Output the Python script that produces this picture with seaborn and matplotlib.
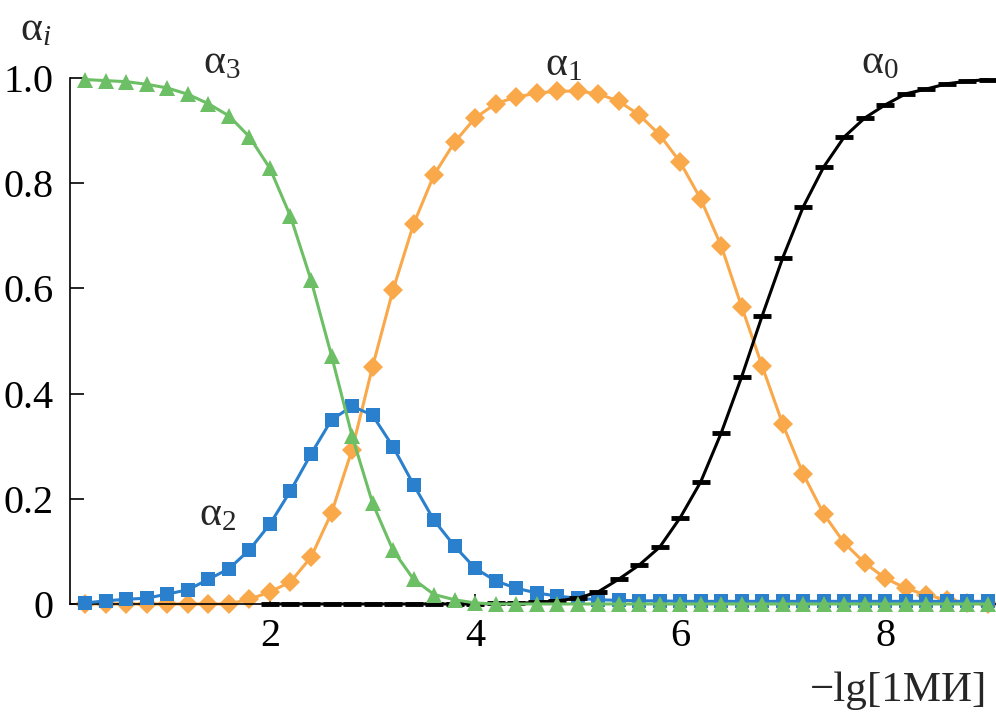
import numpy as np
import pandas as pd
import matplotlib
matplotlib.use("Agg")
import matplotlib.pyplot as plt
import seaborn as sns

# -lg[1MI] values, markers every 0.2
x_all = [round(0.2 * k, 1) for k in range(1, 46)]

# alpha_3 (green triangles)
alpha3 = [0.997, 0.995, 0.993, 0.988, 0.981, 0.969, 0.951, 0.928, 0.888, 0.828,
          0.737, 0.616, 0.472, 0.320, 0.192, 0.102, 0.047, 0.018, 0.008, 0.002,
          0.0, 0.0, 0.0, 0.0, 0.0, 0.0, 0.0, 0.0, 0.0, 0.0,
          0.0, 0.0, 0.0, 0.0, 0.0, 0.0, 0.0, 0.0, 0.0, 0.0,
          0.0, 0.0, 0.0, 0.0, 0.0]

# alpha_2 (blue squares)
alpha2 = [0.002, 0.006, 0.009, 0.011, 0.019, 0.027, 0.047, 0.067, 0.103, 0.152,
          0.215, 0.285, 0.350, 0.376, 0.359, 0.299, 0.227, 0.159, 0.110, 0.068,
          0.044, 0.030, 0.021, 0.015, 0.011, 0.008, 0.007, 0.006, 0.006, 0.005,
          0.005, 0.005, 0.005, 0.005, 0.005, 0.005, 0.005, 0.005, 0.005, 0.005,
          0.005, 0.005, 0.005, 0.005, 0.005]

# alpha_1 (orange diamonds)
alpha1 = [0.0, 0.0, 0.0, 0.0, 0.0, 0.0, 0.0, 0.0, 0.009, 0.023,
          0.042, 0.089, 0.173, 0.293, 0.451, 0.597, 0.722, 0.816, 0.878, 0.924,
          0.951, 0.964, 0.971, 0.975, 0.975, 0.970, 0.956, 0.930, 0.892, 0.840,
          0.770, 0.681, 0.565, 0.452, 0.342, 0.247, 0.171, 0.116, 0.078, 0.049,
          0.030, 0.017, 0.008, 0.002, 0.0]

# alpha_0 (black dashes), starts at x = 2.0
x0 = [round(0.2 * k, 1) for k in range(10, 46)]
alpha0 = [0.0, 0.0, 0.0, 0.0, 0.0, 0.0, 0.0, 0.0, 0.0, 0.0,
          0.0, 0.001, 0.001, 0.003, 0.006, 0.011, 0.023, 0.047, 0.074, 0.108,
          0.164, 0.232, 0.325, 0.432, 0.548, 0.658, 0.755, 0.831, 0.888, 0.924,
          0.949, 0.970, 0.979, 0.989, 0.994, 0.997]

green = "#6cbf64"
blue = "#2a80cc"
orange = "#f9a84a"

sns.set_style("white")
plt.rcParams["font.family"] = ["Liberation Serif", "DejaVu Serif"]
plt.rcParams["mathtext.fontset"] = "custom"
plt.rcParams["mathtext.rm"] = "Liberation Serif"
plt.rcParams["mathtext.it"] = "Liberation Serif:italic"

fig = plt.figure(figsize=(9.96, 7.13), dpi=100)
ax = fig.add_axes([0.0703, 0.1529, 0.9297, 0.7377])

df = pd.DataFrame({"x": x_all, "a3": alpha3, "a2": alpha2, "a1": alpha1})
df0 = pd.DataFrame({"x": x0, "a0": alpha0})

sns.lineplot(data=df, x="x", y="a1", ax=ax, color=orange, lw=2.2, marker="D",
             markersize=10, markeredgewidth=0, zorder=2, clip_on=False)
sns.lineplot(data=df, x="x", y="a2", ax=ax, color=blue, lw=2.2, marker="s",
             markersize=10, markeredgewidth=0, zorder=3, clip_on=False)
sns.lineplot(data=df0, x="x", y="a0", ax=ax, color="black", lw=2.2, marker="_",
             markersize=13, markeredgewidth=3.5, markeredgecolor="black",
             zorder=4, clip_on=False)
sns.lineplot(data=df, x="x", y="a3", ax=ax, color=green, lw=2.2, marker="^",
             markersize=12, markeredgewidth=0, zorder=5, clip_on=False)

ax.set_xlim(0.05, 9.08)
ax.set_ylim(0, 1.0)
ax.set_xticks([2, 4, 6, 8])
ax.set_yticks([0, 0.2, 0.4, 0.6, 0.8, 1.0])
ax.set_yticklabels(["0", "0.2", "0.4", "0.6", "0.8", "1.0"])
ax.set_xlabel("")
ax.set_ylabel("")

for side in ["top", "right"]:
    ax.spines[side].set_visible(False)
for side in ["left", "bottom"]:
    ax.spines[side].set_color("black")
    ax.spines[side].set_linewidth(1.2)

ax.tick_params(axis="y", direction="in", length=10, width=1.2, pad=12,
               labelsize=29, colors="black", left=True)
ax.tick_params(axis="x", direction="in", length=7, width=1.2, pad=10,
               labelsize=29, colors="black", bottom=True)

# curve labels
lab = dict(fontsize=30, ha="left", va="baseline", clip_on=False)
ax.text(-0.44, 1.072, r"$\mathrm{\alpha}_i$", **lab)
ax.text(1.35, 1.008, r"$\mathrm{\alpha}_3$", **lab)
ax.text(4.68, 1.006, r"$\mathrm{\alpha}_1$", **lab)
ax.text(7.76, 1.008, r"$\mathrm{\alpha}_0$", **lab)
ax.text(1.31, 0.150, r"$\mathrm{\alpha}_2$", **lab)

fig.text(0.991, 0.004, "\u2212lg[1МИ]", fontsize=31, ha="right", va="bottom")

fig.savefig("out.png", dpi=100)
